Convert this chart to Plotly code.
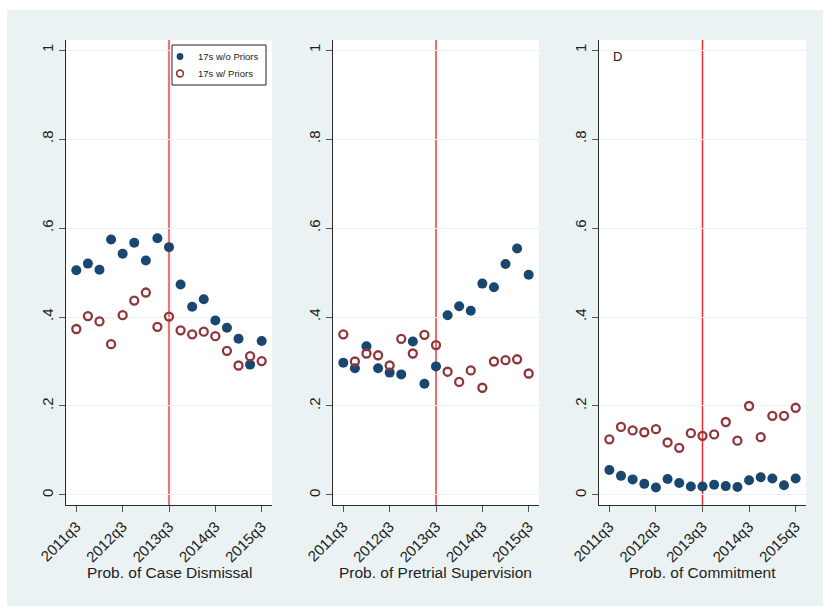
import plotly.graph_objects as go

# Quarters 2011q3 .. 2015q3 (17 quarters), indexed 0..16
quarter_idx = list(range(17))
tick_pos = [0, 4, 8, 12, 16]
tick_text = ["2011q3", "2012q3", "2013q3", "2014q3", "2015q3"]
cutoff_quarter = 8  # 2013q3

y_ticks = [0, 0.2, 0.4, 0.6, 0.8, 1]
y_tick_text = ["0", ".2", ".4", ".6", ".8", "1"]

# Prob. of Case Dismissal
dismissal_no_priors = [0.505, 0.520, 0.506, 0.574, 0.542, 0.567, 0.527, 0.577, 0.557,
                       0.473, 0.423, 0.440, 0.392, 0.376, 0.351, 0.293, 0.346]
dismissal_priors = [0.373, 0.402, 0.390, 0.339, 0.404, 0.437, 0.455, 0.378, 0.401,
                    0.370, 0.361, 0.367, 0.357, 0.324, 0.291, 0.312, 0.301]

# Prob. of Pretrial Supervision
supervision_no_priors = [0.297, 0.285, 0.334, 0.285, 0.275, 0.271, 0.345, 0.250, 0.289,
                         0.404, 0.424, 0.414, 0.475, 0.467, 0.519, 0.554, 0.495]
supervision_priors = [0.361, 0.300, 0.318, 0.314, 0.291, 0.351, 0.318, 0.360, 0.337,
                      0.277, 0.254, 0.280, 0.241, 0.300, 0.303, 0.305, 0.273]

# Prob. of Commitment
commitment_no_priors = [0.056, 0.043, 0.035, 0.025, 0.017, 0.036, 0.027, 0.019, 0.019,
                        0.023, 0.020, 0.018, 0.033, 0.040, 0.037, 0.022, 0.037]
commitment_priors = [0.125, 0.153, 0.145, 0.141, 0.148, 0.118, 0.106, 0.139, 0.133,
                     0.136, 0.164, 0.122, 0.200, 0.130, 0.178, 0.178, 0.196]

panel_titles = ["Prob. of Case Dismissal", "Prob. of Pretrial Supervision", "Prob. of Commitment"]
series_names = ["17s w/o Priors", "17s w/ Priors"]

W, H = 823, 606
NAVY = "#1a476f"
MAROON = "#90353b"
BG = "#eaf2f3"
FONT = "Liberation Sans, Arial, Helvetica, sans-serif"

# pixel extents of each plot region
panels_px = [(66, 272), (333, 539), (599, 806)]
top_px, bottom_px = 40, 505
y_dom = [(H - bottom_px) / H, (H - top_px) / H]


def px_x(px):
    return px / W


def px_y(px):
    return (H - px) / H


panel_data = [
    (dismissal_no_priors, dismissal_priors),
    (supervision_no_priors, supervision_priors),
    (commitment_no_priors, commitment_priors),
]
line_styles = [("#f07474", 2.2), ("#e41a1c", 1.3), ("#ee3030", 1.5)]

fig = go.Figure()
# thin white strips along the left and top edges of the graph region
shapes = [
    dict(type="rect", xref="paper", yref="paper", x0=-0.01, x1=px_x(7), y0=-0.01, y1=1.01,
         fillcolor="white", line=dict(width=0), layer="below"),
    dict(type="rect", xref="paper", yref="paper", x0=-0.01, x1=1.01, y0=px_y(10), y1=1.01,
         fillcolor="white", line=dict(width=0), layer="below"),
]
annotations = []

for i, ((x0, x1), (no_pr, pr), title) in enumerate(zip(panels_px, panel_data, panel_titles)):
    n = i + 1
    xa = "x" if n == 1 else f"x{n}"
    ya = "y" if n == 1 else f"y{n}"
    fig.add_trace(go.Scatter(
        x=quarter_idx, y=no_pr, mode="markers", name=series_names[0],
        xaxis=xa, yaxis=ya, showlegend=False,
        marker=dict(symbol="circle", color=NAVY, size=10, line=dict(width=0)),
    ))
    fig.add_trace(go.Scatter(
        x=quarter_idx, y=pr, mode="markers", name=series_names[1],
        xaxis=xa, yaxis=ya, showlegend=False,
        marker=dict(symbol="circle-open", color=MAROON, size=8, line=dict(width=2.3)),
    ))
    axis_common = dict(
        showline=True, linecolor="#2b2b2b", linewidth=1.2, ticks="outside",
        ticklen=6, tickcolor="#555", tickwidth=1.2, zeroline=False, automargin=False,
        tickfont=dict(family=FONT, size=15, color="#222"),
    )
    fig.layout[f"xaxis{'' if n == 1 else n}"] = dict(
        domain=[px_x(x0), px_x(x1)], anchor=ya, range=[-0.89, 16.89],
        tickmode="array", tickvals=tick_pos, ticktext=tick_text, tickangle=-45,
        showgrid=False, **axis_common,
    )
    fig.layout[f"yaxis{'' if n == 1 else n}"] = dict(
        domain=y_dom, anchor=xa, range=[-0.0225, 1.0225],
        tickmode="array", tickvals=y_ticks, ticktext=y_tick_text, tickangle=-90,
        showgrid=True, gridcolor=BG, gridwidth=1, **axis_common,
    )
    color, width = line_styles[i]
    shapes.append(dict(type="line", xref=xa, yref=f"{ya} domain", x0=cutoff_quarter,
                       x1=cutoff_quarter, y0=0, y1=1, line=dict(color=color, width=width),
                       layer="below"))
    annotations.append(dict(text=title, xref="paper", yref="paper",
                            x=px_x((x0 + x1) / 2), y=px_y(572), showarrow=False,
                            xanchor="center", yanchor="middle",
                            font=dict(family=FONT, size=15.5, color="#222")))

annotations.append(dict(text="D", xref="paper", yref="paper", x=px_x(611), y=px_y(56),
                        showarrow=False, xanchor="left", yanchor="middle",
                        font=dict(family=FONT, size=13, color="#222")))

# legend box inside the first panel
shapes.append(dict(type="rect", xref="paper", yref="paper",
                   x0=px_x(172), x1=px_x(266), y0=px_y(85), y1=px_y(45),
                   fillcolor="white", line=dict(color="#222", width=1)))
legend_rows = [(56.5, NAVY, NAVY, 0), (73.5, "white", MAROON, 1.6)]
for (row_y, fill, edge, lw), label in zip(legend_rows, series_names):
    r = 3.4
    shapes.append(dict(type="circle", xref="paper", yref="paper",
                       x0=px_x(180 - r), x1=px_x(180 + r), y0=px_y(row_y + r), y1=px_y(row_y - r),
                       fillcolor=fill, line=dict(color=edge, width=lw)))
    annotations.append(dict(text=label, xref="paper", yref="paper", x=px_x(196), y=px_y(row_y),
                            showarrow=False, xanchor="left", yanchor="middle",
                            font=dict(family=FONT, size=9.5, color="#222")))

fig.update_layout(
    width=W, height=H, margin=dict(l=0, r=0, t=0, b=0),
    paper_bgcolor=BG, plot_bgcolor="white", showlegend=False,
    shapes=shapes, annotations=annotations,
)

fig.write_html("out.html")
